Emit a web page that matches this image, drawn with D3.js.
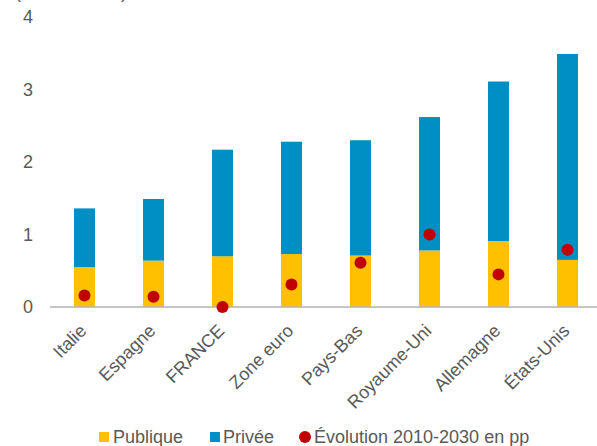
<!DOCTYPE html>
<html>
<head>
<meta charset="utf-8">
<script src="https://cdn.jsdelivr.net/npm/d3@7"></script>
<style>
  body { margin: 0; background: #fff; }
  svg { display: block; font-family: "Liberation Sans", Arial, sans-serif; }
</style>
</head>
<body>
<div id="chart"></div>
<script>
// data
var countries = ["Italie", "Espagne", "FRANCE", "Zone euro", "Pays-Bas", "Royaume-Uni", "Allemagne", "États-Unis"];
var publique = [0.55, 0.64, 0.70, 0.73, 0.71, 0.78, 0.91, 0.65];
var totale = [1.36, 1.49, 2.17, 2.28, 2.30, 2.62, 3.11, 3.49];
var evolution = [0.16, 0.14, 0.00, 0.31, 0.61, 1.00, 0.45, 0.79];
var yTicks = [0, 1, 2, 3, 4];

(function () {

    var width = 597, height = 446;
    var textColor = "#595959";

    var svg = d3.select("#chart").append("svg")
        .attr("width", width)
        .attr("height", height);

    var x = d3.scaleBand()
        .domain(countries)
        .range([50, 602])
        .paddingInner(0.696)
        .paddingOuter(0.348);

    var y = d3.scaleLinear()
        .domain([0, 4])
        .range([307, 17]);

    var data = countries.map(function (c, i) {
        return { pays: c, pub: publique[i], tot: totale[i], evo: evolution[i] };
    });

    // unit label, cut off at the top edge as in the original
    svg.append("text")
        .attr("x", 15)
        .attr("y", -2.5)
        .style("font-size", "18px")
        .style("fill", textColor)
        .text("(en % du PIB)");

    // y axis labels, no line
    svg.append("g").selectAll("text")
        .data(yTicks)
        .enter().append("text")
        .attr("x", 33)
        .attr("y", function (d) { return y(d); })
        .attr("dy", "0.35em")
        .attr("text-anchor", "end")
        .style("font-size", "18px")
        .style("fill", textColor)
        .text(function (d) { return d; });

    // publique (bottom)
    svg.append("g").selectAll("rect")
        .data(data)
        .enter().append("rect")
        .attr("x", function (d) { return x(d.pays); })
        .attr("width", x.bandwidth())
        .attr("y", function (d) { return y(d.pub); })
        .attr("height", function (d) { return y(0) - y(d.pub); })
        .attr("fill", "#FFC000");

    // privée (stacked on top)
    svg.append("g").selectAll("rect")
        .data(data)
        .enter().append("rect")
        .attr("x", function (d) { return x(d.pays); })
        .attr("width", x.bandwidth())
        .attr("y", function (d) { return y(d.tot); })
        .attr("height", function (d) { return y(d.pub) - y(d.tot); })
        .attr("fill", "#008FC4");

    // x axis line
    svg.append("line")
        .attr("x1", 50).attr("x2", 597)
        .attr("y1", y(0)).attr("y2", y(0))
        .attr("stroke", "#b3b3b3")
        .attr("stroke-width", 1.5);

    // évolution dots
    svg.append("g").selectAll("circle")
        .data(data)
        .enter().append("circle")
        .attr("cx", function (d) { return x(d.pays) + x.bandwidth() / 2; })
        .attr("cy", function (d) { return y(d.evo); })
        .attr("r", 6)
        .attr("fill", "#C00000");

    // category labels, rotated
    svg.append("g").selectAll("text")
        .data(countries)
        .enter().append("text")
        .attr("transform", function (d) {
            return "translate(" + (x(d) + x.bandwidth() / 2 + 3) + ",332) rotate(-45)";
        })
        .attr("text-anchor", "end")
        .style("font-size", "18px")
        .style("fill", textColor)
        .text(function (d) { return d; });

    // legend
    var leg = svg.append("g");
    leg.append("rect").attr("x", 99).attr("y", 432).attr("width", 10).attr("height", 10).attr("fill", "#FFC000");
    leg.append("text").attr("x", 113).attr("y", 443).style("font-size", "18px").style("fill", textColor).text("Publique");
    leg.append("rect").attr("x", 210).attr("y", 432).attr("width", 10).attr("height", 10).attr("fill", "#008FC4");
    leg.append("text").attr("x", 223).attr("y", 443).style("font-size", "18px").style("fill", textColor).text("Privée");
    leg.append("circle").attr("cx", 305).attr("cy", 437).attr("r", 6).attr("fill", "#C00000");
    leg.append("text").attr("x", 314).attr("y", 443).style("font-size", "18px").style("fill", textColor).text("Évolution 2010-2030 en pp");

})();
</script>
</body>
</html>
